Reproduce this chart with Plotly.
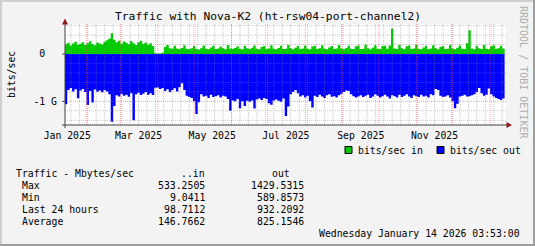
import plotly.graph_objects as go
import pandas as pd

# ---------------- data (Mbit/s, 2-day steps from 2025-01-14) ----------------
start_date = "2025-01-14"
step_days = 2

in_mbit = [
    205, 240, 180, 225, 260, 195, 215, 250, 190, 230, 270, 210, 185, 245, 225, 200, 260,
    290, 330, 440,
    300, 250, 280, 215, 265, 240, 205, 275, 230, 190, 250, 280, 220, 245, 195, 230, 170,
    15, 9, 12, 25,
    150, 190, 120, 110, 175, 115, 105, 130, 185, 110,
    100, 120, 170, 105, 95, 125, 180, 110, 100, 140,
    175, 105, 115, 160, 120, 100, 190, 115, 105, 130,
    165, 110, 100, 175, 120, 105, 135, 180, 110, 100,
    150, 170, 105, 115, 185, 110, 100, 130, 175, 105,
    110, 190, 120, 100, 135, 170, 105, 115, 180, 110,
    100, 160, 175, 105, 120, 185, 110, 100, 140, 170,
    105, 115, 190, 115, 100, 130, 175, 110, 105, 165,
    180, 105, 110, 195, 120, 100, 135, 185, 110, 105,
    170, 175, 110, 180, 533, 115, 105, 190, 125, 100,
    165, 180, 105, 115, 195, 110, 100, 140, 175, 105,
    115, 185, 120, 100, 150, 170, 105, 110, 190, 115,
    100, 135, 180, 110, 105, 230, 505, 115, 100, 175,
    120, 105, 190, 110, 100, 165, 185, 110, 120, 175,
    115, 130,
]

out_mbit = [
    1062, 760, 720, 790, 745, 935, 770, 740, 800, 1076, 780, 1027,
    750, 795, 770, 810, 760, 790, 850, 1430, 1097,
    870, 900, 840, 880, 860, 905, 830, 1400,
    850, 820, 865, 840, 800, 860, 830, 865,
    710, 705, 740, 720,
    780, 745, 800, 760, 725, 790, 700, 620, 760,
    880, 910, 930, 1000, 1266, 1020,
    850, 900, 880, 930, 860, 910, 890, 870, 920, 880, 900,
    950, 1200, 980, 1000, 950, 1146, 1000, 1097,
    990, 1010, 980, 1150,
    960, 940, 970, 930, 950, 1040, 1070, 980, 960, 990, 1010, 940,
    1308, 1111, 850, 800, 760, 830, 900, 870, 920, 880, 1000, 1132,
    880, 910, 860, 900, 930, 870, 850, 905, 890, 920,
    870, 840, 800, 773, 780, 850, 890, 920, 900, 870,
    910, 880, 860, 930, 900, 850, 880, 920, 890, 860,
    900, 940, 870, 890, 920, 860, 910, 880, 850, 900,
    930, 870, 890, 910, 860, 900, 880, 920, 850, 870,
    740, 760, 880, 910, 900, 870, 920, 1000,
    1146,
    1050, 900, 880, 860, 900, 890, 870, 850, 800, 720, 830,
    880, 860, 730, 850, 900, 930, 950, 970, 940, 960,
]

month_labels = ["Jan 2025", "Mar 2025", "May 2025", "Jul 2025", "Sep 2025", "Nov 2025"]
label_dates = ["2025-01-16", "2025-03-16", "2025-05-16", "2025-07-16", "2025-09-16", "2025-11-16"]

y_tick_vals = [0, -1]
y_tick_text = ["0\u00a0\u00a0", "-1 G"]

stat_header = ["Traffic - Mbytes/sec", "..in", "out"]
stat_rows = ["Max", "Min", "Last 24 hours", "Average"]
stat_in = ["533.2505", "9.0411", "98.7112", "146.7662"]
stat_out = ["1429.5315", "589.8573", "932.2092", "825.1546"]

legend_names = ["bits/sec in", "bits/sec out"]
title_text = "Traffic with Nova-K2 (ht-rsw04-port-channel2)"
y_title = "bits/sec"
side_text = "RRDTOOL / TOBI OETIKER"
stamp_text = "Wednesday January 14 2026 03:53:00"

x_range = ["2025-01-14 03:53:00", "2026-01-14 03:53:00"]
y_range = [-1.5, 0.635]

# ---------------- styling ----------------
W, H = 535, 246
ML, MR, MT, MB = 65, 29, 24, 121
PW = W - ML - MR
PH = H - MT - MB
FONT = "DejaVu Sans Mono"
GREEN = "#00CC00"
BLUE = "#0000FF"
AXIS_COL = "#404040"
ARROW_COL = "#8B1A1A"
MINOR_GRID = "rgba(128,128,128,0.45)"
MAJOR_GRID = "rgba(255,64,64,0.5)"


def PX(x):
    return (x - ML) / PW


def PY(y):
    return (MT + PH - y) / PH


dates = pd.date_range(start_date, periods=len(in_mbit), freq=f"{step_days}D")
in_g = [v / 1000 for v in in_mbit]
out_g = [-v / 1000 for v in out_mbit]

fig = go.Figure()
fig.add_trace(go.Scatter(x=dates, y=in_g, mode="lines", line=dict(width=0, shape="hv"),
                         fill="tozeroy", fillcolor=GREEN, hoverinfo="skip", showlegend=False))
fig.add_trace(go.Scatter(x=dates, y=out_g, mode="lines", line=dict(width=0, shape="hv"),
                         fill="tozeroy", fillcolor=BLUE, hoverinfo="skip", showlegend=False))

shapes = []
# vertical grid: weekly minor, monthly major
weeks = pd.date_range("2025-01-19", "2026-01-13", freq="7D")
months = pd.date_range("2025-02-01", "2026-01-01", freq="MS")
for d in weeks:
    shapes.append(dict(type="line", xref="x", yref="paper", x0=d, x1=d, y0=0, y1=1,
                       line=dict(color=MINOR_GRID, width=1, dash="1px,1px"), layer="above"))
for d in months:
    shapes.append(dict(type="line", xref="x", yref="paper", x0=d, x1=d, y0=0, y1=1,
                       line=dict(color=MAJOR_GRID, width=1, dash="1px,1px"), layer="above"))
# horizontal grid
minor_y = [-1.4, -1.2, -0.8, -0.6, -0.4, -0.2, 0.2, 0.4, 0.6]
for v in minor_y:
    shapes.append(dict(type="line", xref="paper", yref="y", x0=0, x1=1, y0=v, y1=v,
                       line=dict(color=MINOR_GRID, width=1, dash="1px,1px"), layer="above"))
for v in y_tick_vals:
    shapes.append(dict(type="line", xref="paper", yref="y", x0=0, x1=1, y0=v, y1=v,
                       line=dict(color=MAJOR_GRID, width=1, dash="1px,1px"), layer="above"))
    shapes.append(dict(type="line", xref="paper", yref="y", x0=PX(62), x1=PX(65), y0=v, y1=v,
                       line=dict(color=AXIS_COL, width=1), layer="above"))

# axes + arrows
shapes.append(dict(type="line", xref="paper", yref="paper", x0=PX(62), x1=PX(507), y0=0, y1=0,
                   line=dict(color=AXIS_COL, width=1), layer="above"))
shapes.append(dict(type="line", xref="paper", yref="paper", x0=0, x1=0, y0=PY(128), y1=PY(22),
                   line=dict(color=AXIS_COL, width=1), layer="above"))
shapes.append(dict(type="path", xref="paper", yref="paper",
                   path=f"M {PX(506.5)},{PY(122)} L {PX(512)},{PY(125)} L {PX(506.5)},{PY(128)} Z",
                   fillcolor=ARROW_COL, line=dict(width=0), layer="above"))
shapes.append(dict(type="path", xref="paper", yref="paper",
                   path=f"M {PX(62)},{PY(24.5)} L {PX(65)},{PY(18.5)} L {PX(68)},{PY(24.5)} Z",
                   fillcolor=ARROW_COL, line=dict(width=0), layer="above"))

# frame shading
shapes += [
    dict(type="rect", xref="paper", yref="paper", x0=PX(0), x1=PX(W), y0=PY(0), y1=PY(2),
         fillcolor="#CFCFCF", line=dict(width=0), layer="below"),
    dict(type="rect", xref="paper", yref="paper", x0=PX(0), x1=PX(2), y0=PY(0), y1=PY(H),
         fillcolor="#CFCFCF", line=dict(width=0), layer="below"),
    dict(type="rect", xref="paper", yref="paper", x0=PX(0), x1=PX(W), y0=PY(H - 2), y1=PY(H),
         fillcolor="#9E9E9E", line=dict(width=0), layer="below"),
    dict(type="rect", xref="paper", yref="paper", x0=PX(W - 2), x1=PX(W), y0=PY(0), y1=PY(H),
         fillcolor="#9E9E9E", line=dict(width=0), layer="below"),
]

# legend boxes
for x0, col in [(345, GREEN), (437, BLUE)]:
    shapes.append(dict(type="rect", xref="paper", yref="paper", x0=PX(x0), x1=PX(x0 + 7),
                       y0=PY(153.5), y1=PY(146.5), fillcolor=col,
                       line=dict(color="black", width=1), layer="above"))

annotations = []


def ann(text, x, y, xanchor="left", size=9.8, color="black", angle=0):
    annotations.append(dict(text=text, xref="paper", yref="paper", x=PX(x), y=PY(y),
                            xanchor=xanchor, yanchor="middle", showarrow=False,
                            textangle=angle, borderpad=0,
                            font=dict(family=FONT, size=size, color=color)))


ann(title_text, 267.5, 16.5, "center", size=11.3)
ann(y_title, 11, 75, "center", angle=-90)
ann(side_text, 524, 72, "center", size=10, color="#ADADAD", angle=90)
ann(legend_names[0], 357, 150)
ann(legend_names[1], 449, 150)
ann(stat_header[0], 15, 173.5)
ann(stat_header[1], 206, 173.5, "right")
ann(stat_header[2], 291, 173.5, "right")
for k, name in enumerate(stat_rows):
    yy = 185.5 + 12 * k
    ann(name, 21, yy)
    ann(stat_in[k], 206, yy, "right")
    ann(stat_out[k], 305, yy, "right")
ann(stamp_text, 521, 233.5, "right")

fig.update_layout(
    width=W, height=H, autosize=False,
    margin=dict(l=ML, r=MR, t=MT, b=MB, pad=0),
    paper_bgcolor="#F3F3F3", plot_bgcolor="#FFFFFF",
    showlegend=False,
    shapes=shapes, annotations=annotations,
    font=dict(family=FONT, size=9.8, color="black"),
    xaxis=dict(range=x_range, type="date", tickvals=label_dates, ticktext=month_labels,
               showgrid=False, showline=False, zeroline=False, ticks="",
               ticklabelstandoff=3, tickfont=dict(family=FONT, size=9.8, color="black"),
               fixedrange=True),
    yaxis=dict(range=y_range, tickvals=y_tick_vals, ticktext=y_tick_text,
               showgrid=False, showline=False, zeroline=False, ticks="",
               ticklabelstandoff=7, tickfont=dict(family=FONT, size=9.8, color="black"),
               fixedrange=True),
)

fig.write_html("out.html", config={"displayModeBar": False})
